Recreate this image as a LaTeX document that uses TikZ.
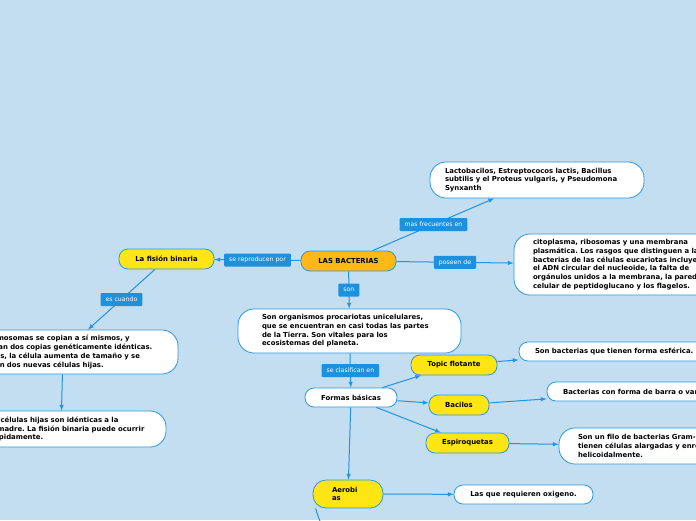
\documentclass[tikz,border=0pt]{standalone}
\usepackage{fontspec}
\setmainfont{DejaVu Sans}
\usepackage{xcolor}
\usepackage{tikz}
\frenchspacing

\definecolor{fond}{RGB}{194,222,240}
\definecolor{bordure}{RGB}{45,152,222}
\definecolor{lien}{RGB}{36,148,222}
\definecolor{etiqfond}{RGB}{30,145,222}
\definecolor{jaune}{RGB}{255,229,20}
\definecolor{orange}{RGB}{255,184,22}

\begin{document}
\begin{tikzpicture}[x=1pt, y=-1pt, >=latex,
    bulle/.style={draw=bordure, line width=0.8pt, fill=white, rounded corners=16pt,
        font=\fontsize{6.9}{8.7}\selectfont\bfseries, align=left, inner ysep=2pt},
    pastille/.style={draw=bordure, line width=0.8pt, rounded corners=9pt,
        font=\fontsize{6.9}{8.7}\selectfont\bfseries, align=center, inner sep=1pt},
    etiq/.style={fill=etiqfond, text=white, rounded corners=1pt, inner xsep=5pt,
        minimum height=13pt, font=\fontsize{6.2}{7}\selectfont},
    fleche/.style={->, draw=lien, line width=1pt}]

    % Fond bleu clair et cadre de la carte
    \fill[fond] (0,0) rectangle (696,520);
    \useasboundingbox (0,0) rectangle (696,520);
    \clip (0,0) rectangle (696,520);

    % Noeud central
    \node[pastille, fill=orange, minimum width=95pt, minimum height=20pt] (bact) at (348.5,261) {LAS BACTERIAS};

    % Branche de gauche : la reproduction
    \node[pastille, fill=jaune, minimum width=95pt, minimum height=20pt] (fision) at (166.5,259) {La fisión binaria};
    \node[bulle, text width=188pt, inner xsep=21pt, minimum height=44pt] (cromos) at (63,352)
        {Los cromosomas se copian a sí mismos, y\\se forman dos copias genéticamente idénticas.\\Entonces, la célula aumenta de tamaño y se\\divide en dos nuevas células hijas.};
    \node[bulle, text width=178pt, inner xsep=16pt, minimum height=36pt] (hijas) at (61,429)
        {Ambas células hijas son idénticas a la\\célula madre. La fisión binaria puede ocurrir\\muy rápidamente.};

    % Branche du haut et de droite
    \node[bulle, text width=184pt, inner xsep=15pt, minimum height=36pt] (lacto) at (537,180)
        {Lactobacilos, Estreptococos lactis, Bacillus\\subtilis y el Proteus vulgaris, y Pseudomona\\Synxanth};
    \node[bulle, text width=200pt, inner xsep=19pt, minimum height=61pt] (cito) at (633,264.5)
        {citoplasma, ribosomas y una membrana\\plasmática. Los rasgos que distinguen a las\\bacterias de las células eucariotas incluyen\\el ADN circular del nucleoide, la falta de\\orgánulos unidos a la membrana, la pared\\celular de peptidoglucano y los flagelos.};

    % Branche du bas : la classification
    \node[bulle, text width=175pt, inner xsep=24pt, minimum height=44pt] (orgs) at (349.5,331)
        {Son organismos procariotas unicelulares,\\que se encuentran en casi todas las partes\\de la Tierra. Son vitales para los\\ecosistemas del planeta.};
    \node[pastille, fill=white, minimum width=92pt, minimum height=19pt] (formas) at (351,397.5) {Formas básicas};
    \node[pastille, fill=jaune, minimum width=86pt, minimum height=20pt] (topic) at (454,365) {Topic flotante};
    \node[pastille, fill=jaune, minimum width=60pt, minimum height=20pt] (bacilos) at (459,405) {Bacilos};
    \node[pastille, fill=jaune, minimum width=83pt, minimum height=20pt] (espiro) at (467.5,443) {Espiroquetas};
    \node[pastille, fill=jaune, align=left, text width=32pt, inner xsep=19pt, minimum height=28pt, rounded corners=13pt] (aero) at (348,494) {Aerobi\\as};

    % Definitions des formes
    \node[pastille, fill=white, align=left, text width=180pt, inner xsep=16pt, minimum height=19pt] (esfer) at (625,351.5) {Son bacterias que tienen forma esférica.};
    \node[pastille, fill=white, align=left, text width=180pt, inner xsep=16pt, minimum height=19pt] (barra) at (653,391.5) {Bacterias con forma de barra o varilla.};
    \node[bulle, text width=205pt, inner xsep=19pt, minimum height=36pt] (gram) at (680.5,446)
        {Son un filo de bacterias Gram-negativas que\\tienen células alargadas y enrolladas\\helicoidalmente.};
    \node[pastille, fill=white, minimum width=139pt, minimum height=19pt] (oxig) at (523.5,494.5) {Las que requieren oxigeno.};

    % Liens avec etiquettes
    \draw[fleche] (bact) -- node[etiq] {se reproducen por} (fision);
    \draw[fleche] (bact) -- node[etiq] {mas frecuentes en} (lacto);
    \draw[fleche] (bact) -- node[etiq] {poseen de} (cito);
    \draw[fleche] (bact) -- node[etiq] {son} (orgs);
    \draw[fleche] (fision) -- node[etiq] {es cuando} (cromos);
    \draw[fleche] (orgs) -- node[etiq] {se clasifican en} (formas);

    % Liens simples
    \draw[fleche] (cromos) -- (hijas);
    \draw[fleche] (formas) -- (topic);
    \draw[fleche] (formas) -- (bacilos);
    \draw[fleche] (formas) -- (espiro);
    \draw[fleche] (formas) -- (aero);
    \draw[fleche] (topic) -- (esfer);
    \draw[fleche] (bacilos) -- (barra);
    \draw[fleche] (espiro) -- (gram);
    \draw[fleche] (aero) -- (oxig);

    % Lien qui sort par le bas
    \coordinate (sortie) at (324,535);
    \draw[draw=lien, line width=1pt] ([xshift=3pt]aero.south west) to[out=-75, in=100] (sortie);

\end{tikzpicture}
\end{document}
